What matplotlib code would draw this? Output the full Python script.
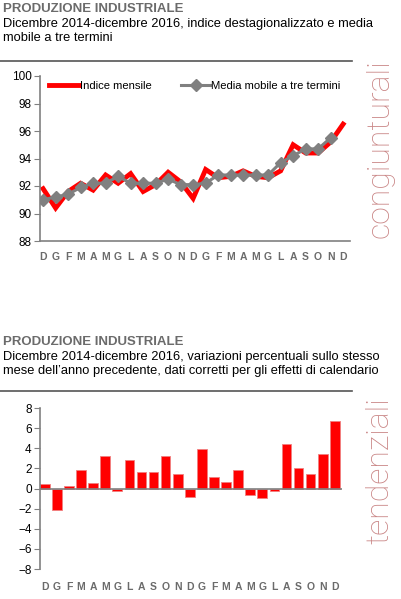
import numpy as np
import matplotlib
matplotlib.use("Agg")
import matplotlib.pyplot as plt
from matplotlib.lines import Line2D
from matplotlib import font_manager as fm

# cerca un font stretto (stile Arial Narrow), altrimenti riduci il corpo
nomi = {f.name for f in fm.fontManager.ttflist}
if 'Liberation Sans Narrow' in nomi:
    NARROW, K = 'Liberation Sans Narrow', 1.0
else:
    NARROW, K = 'Liberation Sans', 0.83
plt.rcParams['font.family'] = [NARROW, 'DejaVu Sans']

# mesi da dicembre 2014 a dicembre 2016
mesi = list("DGFMAMGLASOND") + list("GFMAMGLASOND")

# indice destagionalizzato (congiunturali)
indice = [91.8, 90.4, 91.6, 92.2, 91.7, 92.8, 92.2, 92.9, 91.6, 92.1, 93.0, 92.3, 91.1,
          93.2, 92.6, 92.7, 93.1, 92.7, 92.6, 93.1, 95.0, 94.4, 94.4, 95.2, 96.5]
# media mobile a tre termini (manca l'ultimo mese)
media = [91.0, 91.2, 91.4, 91.9, 92.2, 92.2, 92.7, 92.2, 92.2, 92.2, 92.5, 92.1, 92.1,
         92.2, 92.8, 92.8, 92.8, 92.8, 92.8, 93.7, 94.2, 94.7, 94.7, 95.5, np.nan]

# variazioni tendenziali
tendenz = [0.4, -2.1, 0.25, 1.8, 0.5, 3.2, -0.25, 2.8, 1.6, 1.6, 3.2, 1.4, -0.8,
           3.9, 1.1, 0.6, 1.8, -0.6, -0.9, -0.25, 4.4, 2.0, 1.4, 3.4, 6.7]

W, H = 401, 599
fig = plt.figure(figsize=(W / 100, H / 100), dpi=100)

GRAY = '#808080'
TXT_GRAY = '#6b6b6b'
ROSE = '#c98585'


def fx(px):
    return px / W


def fy(py):
    return 1 - py / H


def header(y0, sub, line_y):
    fig.text(fx(3), fy(y0), "PRODUZIONE INDUSTRIALE", fontsize=11.5 * K, fontweight='bold',
             color=TXT_GRAY, va='top', ha='left')
    fig.text(fx(3), fy(y0 + 15), sub, fontsize=11.2 * K, color='black', va='top', ha='left',
             linespacing=1.2)
    fig.add_artist(Line2D([0, fx(352)], [fy(line_y), fy(line_y)], color='#555555', lw=1.2))


def style_axis(ax):
    for s in ['top', 'right']:
        ax.spines[s].set_visible(False)
    ax.spines['left'].set_color(GRAY)
    ax.spines['bottom'].set_color(GRAY)
    ax.spines['left'].set_linewidth(1.2)
    ax.spines['bottom'].set_linewidth(1.2)
    ax.tick_params(axis='y', direction='out', length=4, color=GRAY, labelsize=8.5, pad=2)
    ax.tick_params(axis='x', length=0, labelsize=7.5, labelcolor=TXT_GRAY)
    ax.set_xticks(range(len(mesi)))
    ax.set_xticklabels(mesi, fontweight='bold', family=['Liberation Sans', 'DejaVu Sans'])
    for t in ax.get_yticklabels():
        t.set_family(['Liberation Sans', 'DejaVu Sans'])


# --- grafico congiunturale ---
header(3, "Dicembre 2014-dicembre 2016, indice destagionalizzato e media\nmobile a tre termini", 61)

ax1 = fig.add_axes([fx(40), fy(241), fx(310), fy(76) - fy(241)])
x = np.arange(len(mesi))
ax1.plot(x, indice, color='#ff0000', lw=3.5, solid_joinstyle='miter', label='Indice mensile', zorder=2)
ax1.plot(x, media, color=GRAY, lw=2.2, marker='D', markersize=6, label='Media mobile a tre termini', zorder=3)
ax1.set_ylim(88, 100)
ax1.set_yticks(range(88, 101, 2))
ax1.set_xlim(-0.25, 24.55)
style_axis(ax1)
ax1.tick_params(axis='x', pad=8)
ax1.legend(loc='upper center', bbox_to_anchor=(0.5, 1.005), ncol=2, frameon=False, fontsize=9.8 * K,
           handlelength=2.6, handletextpad=0.1, columnspacing=2.6, borderaxespad=0.1)

fig.text(fx(380), fy(149), "congiunturali", rotation=90, fontsize=23, color=ROSE,
         family=['Roboto', 'DejaVu Sans'], fontweight='light', ha='center', va='center')

# --- grafico tendenziale ---
header(336, "Dicembre 2014-dicembre 2016, variazioni percentuali sullo stesso\nmese dell\u2019anno precedente, dati corretti per gli effetti di calendario", 391)

ax2 = fig.add_axes([fx(40), fy(569), fx(302), fy(408) - fy(569)])
ax2.bar(x, tendenz, width=0.8, color='#ff0000', edgecolor='#f08080', linewidth=0.6, zorder=2)
ax2.axhline(0, color=GRAY, lw=1.2, zorder=3)
ax2.set_ylim(-8, 8)
ax2.set_yticks(range(-8, 9, 2))
ax2.set_xlim(-0.4, 24.6)
style_axis(ax2)
ax2.spines['bottom'].set_visible(False)
ax2.tick_params(axis='x', pad=9)

fig.text(fx(380), fy(471), "tendenziali", rotation=90, fontsize=23, color=ROSE,
         family=['Roboto', 'DejaVu Sans'], fontweight='light', ha='center', va='center')

fig.savefig("out.png", dpi=100)
